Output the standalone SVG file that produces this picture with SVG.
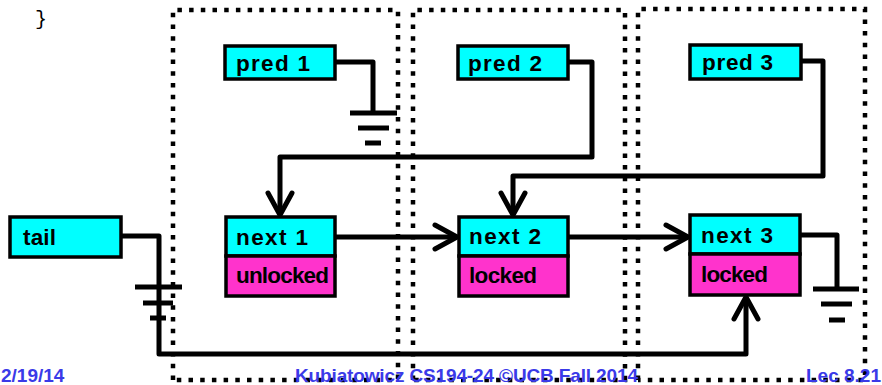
<svg xmlns="http://www.w3.org/2000/svg" width="882" height="385" viewBox="0 0 882 385">
<style>
.dots{fill:none;stroke:#000;stroke-width:4.5;stroke-dasharray:4.5 7.2}
.wire{fill:none;stroke:#000;stroke-width:5;stroke-linejoin:round}
.gnd{stroke:#000;stroke-width:5}
.cy{fill:#00ffff;stroke:#000;stroke-width:3.5}
.mg{fill:#ff33cc;stroke:#000;stroke-width:3.5}
.lbl{font-family:"Liberation Sans",Arial,sans-serif;font-weight:bold;font-size:22.5px;fill:#000}
.foot{font-family:"Liberation Sans",Arial,sans-serif;font-weight:bold;font-size:19px;fill:#3a3ae8}
</style>
<defs>
<marker id="arr" markerUnits="userSpaceOnUse" markerWidth="30" markerHeight="30" viewBox="-26 -15 30 30" refX="0" refY="0" orient="auto" overflow="visible">
<path d="M-22,-12 L0,0 L-22,12" fill="none" stroke="#000" stroke-width="5" stroke-linecap="round" stroke-linejoin="round"/>
</marker>
</defs>
<rect width="882" height="385" fill="#fff"/>
<text x="35" y="25" font-family="Liberation Mono,monospace" font-size="20" fill="#000">}</text>

<g id="connectors">
<path class="wire" d="M335,62 H373 V113"/>
<path class="wire" d="M568,62 H592 V157 H280 V215" marker-end="url(#arr)"/>
<path class="wire" d="M801,61 H823 V176 H513 V215" marker-end="url(#arr)"/>
<path class="wire" d="M335,237 H457" marker-end="url(#arr)"/>
<path class="wire" d="M568,237 H688" marker-end="url(#arr)"/>
<path class="wire" d="M800,235 H837 V289"/>
<path class="wire" d="M121,236 H159 V354 H746 V297" marker-end="url(#arr)"/>
<g id="ground1">
<line class="gnd" x1="350" y1="113" x2="397" y2="113"/>
<line class="gnd" x1="358" y1="128" x2="389" y2="128"/>
<line class="gnd" x1="365" y1="143" x2="381" y2="143"/>
</g>
<g id="ground-tail">
<line class="gnd" x1="135" y1="287" x2="182" y2="287"/>
<line class="gnd" x1="143" y1="303" x2="173" y2="303"/>
<line class="gnd" x1="150" y1="318" x2="166" y2="318"/>
</g>
<g id="ground3">
<line class="gnd" x1="813" y1="289" x2="859" y2="289"/>
<line class="gnd" x1="821" y1="304" x2="852" y2="304"/>
<line class="gnd" x1="829" y1="320" x2="845" y2="320"/>
</g>
</g>

<g id="tail">
<rect class="cy" x="10" y="217" width="111" height="40"/>
<text class="lbl" x="23" y="245" textLength="33">tail</text>
</g>
<g id="pred1">
<rect class="cy" x="225" y="46" width="110" height="33"/>
<text class="lbl" x="236" y="71" textLength="74">pred 1</text>
</g>
<g id="pred2">
<rect class="cy" x="458" y="46" width="110" height="33"/>
<text class="lbl" x="468" y="71" textLength="74">pred 2</text>
</g>
<g id="pred3">
<rect class="cy" x="690" y="45" width="111" height="34"/>
<text class="lbl" x="702" y="70" textLength="71">pred 3</text>
</g>
<g id="node1">
<rect class="cy" x="226" y="217" width="109" height="39"/>
<rect class="mg" x="226" y="256" width="109" height="40"/>
<text class="lbl" x="236" y="245" textLength="72">next 1</text>
<text class="lbl" x="236" y="283" textLength="93">unlocked</text>
</g>
<g id="node2">
<rect class="cy" x="459" y="217" width="109" height="39"/>
<rect class="mg" x="459" y="256" width="109" height="40"/>
<text class="lbl" x="469" y="244" textLength="72">next 2</text>
<text class="lbl" x="469" y="283" textLength="68">locked</text>
</g>
<g id="node3">
<rect class="cy" x="690" y="215" width="110" height="39"/>
<rect class="mg" x="690" y="254" width="110" height="41"/>
<text class="lbl" x="701" y="243" textLength="72">next 3</text>
<text class="lbl" x="701" y="282" textLength="67">locked</text>
</g>

<g id="frames">
<path class="dots" d="M173,380 V10 H398 V380 H173"/>
<path class="dots" d="M413,380 V10 H625 V380 H413"/>
<path class="dots" d="M638,380 V9 H865 V380 H638"/>
</g>

<g id="footer">
<text class="foot" x="1" y="382">2/19/14</text>
<text class="foot" x="295" y="382" textLength="343">Kubiatowicz CS194-24 ©UCB Fall 2014</text>
<text class="foot" x="881" y="382" text-anchor="end">Lec 8.21</text>
</g>
</svg>
